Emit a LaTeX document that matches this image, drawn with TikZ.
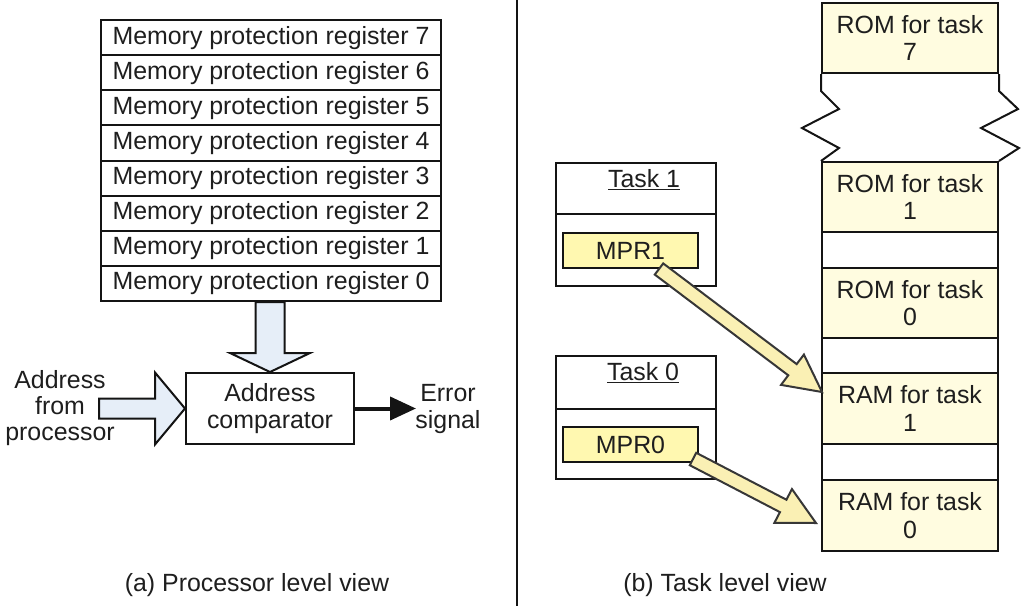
\documentclass[tikz,border=0pt]{standalone}
\usepackage{fontspec}
\setmainfont{Liberation Sans}
\usetikzlibrary{calc,arrows.meta}
\definecolor{blueA}{RGB}{230,238,248}
\definecolor{romfill}{RGB}{255,252,224}
\definecolor{mprfill}{RGB}{255,248,176}
\definecolor{arrfill}{RGB}{250,240,180}
\definecolor{txt}{RGB}{30,30,30}
\definecolor{ln}{RGB}{20,20,20}
\newcommand\fatarrow[6]{%
  \coordinate (fahead) at ($(#3)!#6!(#2)$);
  \draw[#1] ($(#2)!#4!90:(#3)$) -- ($(fahead)!#4!90:(#3)$) -- ($(fahead)!#5!90:(#3)$) -- (#3)
    -- ($(fahead)!#5!-90:(#3)$) -- ($(fahead)!#4!-90:(#3)$) -- ($(#2)!#4!-90:(#3)$) -- cycle;
}
\tikzset{
  every node/.style={font=\fontsize{24.9}{27.5}\selectfont, text=txt},
  box/.style={draw=ln, line width=2pt, inner sep=0pt},
  reg/.style={box, fill=white, minimum width=340pt, minimum height=35.125pt},
  mem/.style={box, fill=romfill, minimum width=176pt, minimum height=70pt, align=center},
  gapbox/.style={box, fill=white, minimum width=176pt},
  taskbox/.style={box, fill=white, minimum width=160pt, minimum height=123pt},
  mprbox/.style={box, fill=mprfill, minimum width=135pt, minimum height=35pt},
  bluearrow/.style={draw=ln, line width=2pt, fill=blueA, line join=miter},
  yarrow/.style={draw=ln!85, line width=2pt, fill=arrfill, line join=miter},
  thin line/.style={draw=ln, line width=2pt},
}
\begin{document}
\begin{tikzpicture}[x=1pt, y=-1pt]
\useasboundingbox (0,0) rectangle (1028,606);

% (a) processor level view
\foreach \i in {0,...,7}
  \node[reg] (r\i) at (271, {301 - 35.125*(\i+0.5)}) {Memory protection register \i};

\node[box, minimum width=168pt, minimum height=71pt, align=center] (cmp) at (270,408.5) {Address\\comparator};

\coordinate (dn) at (cmp.north |- r0.south);
\fatarrow{bluearrow}{dn}{cmp.north}{14.5pt}{40pt}{19pt}

\path (cmp.west) ++(-86,0) coordinate (ain);
\fatarrow{bluearrow}{ain}{cmp.west}{10pt}{36pt}{30pt}

\node[align=center, font=\fontsize{24.9}{26}\selectfont] (addr) at (60,408) {Address\\from\\processor};

\path (cmp.east) ++(61,0) coordinate (err);
\draw[ln, line width=4pt, -{Triangle[length=26pt,width=23pt]}] (cmp.east) -- (err);
\node[align=center] (errtxt) at (448,409) {Error\\signal};

\node (capa) at (257,585) {(a) Processor level view};

% divider
\draw[thin line] (517,0) -- (517,606);

% (b) task level view
\node[mem] (rom7) at (910,38) {ROM for task\\7};
\node[mem] (rom1) at (910,197) {ROM for task\\1};
\node[gapbox, minimum height=36pt] (g1) at (910,250) {};
\node[mem] (rom0) at (910,303) {ROM for task\\0};
\node[gapbox, minimum height=35pt] (g2) at (910,355.5) {};
\node[mem, minimum height=71pt] (ram1) at (910,408.5) {RAM for task\\1};
\node[gapbox, minimum height=36pt] (g3) at (910,462) {};
\node[mem, minimum height=71pt] (ram0) at (910,515.5) {RAM for task\\0};

\draw[thin line, line join=miter] (rom7.south west) -- ++(0,17) -- ++(18,18) -- ++(-37,19) -- ++(37,20) -- (rom1.north west);
\draw[thin line, line join=miter] (rom7.south east) -- ++(0,17) -- ++(19,18) -- ++(-37,19) -- ++(38,20) -- (rom1.north east);

\node[taskbox] (t1) at (636,224.5) {};
\draw[thin line] ($(t1.north west)+(0,52)$) -- ($(t1.north east)+(0,52)$);
\node (t1title) at (644,180) {\underline{Task 1}};
\node[mprbox] (mpr1) at (630.5,250.5) {MPR1};

\node[taskbox] (t0) at (636,417.5) {};
\draw[thin line] ($(t0.north west)+(0,54)$) -- ($(t0.north east)+(0,54)$);
\node (t0title) at (643,373) {\underline{Task 0}};
\node[mprbox] (mpr0) at (630.5,444.5) {MPR0};

\coordinate (a1s) at ($(mpr1.south)+(28.5,0)$);
\coordinate (a1t) at ($(ram1.north west)+(1,20)$);
\fatarrow{yarrow}{a1s}{a1t}{7pt}{19pt}{37pt}

\coordinate (a2s) at ($(mpr0.south east)+(-6,-4)$);
\coordinate (a2t) at ($(ram0.west)+(-5,7.5)$);
\fatarrow{yarrow}{a2s}{a2t}{7pt}{19pt}{37pt}

\node (capb) at (725,585) {(b) Task level view};
\end{tikzpicture}
\end{document}
